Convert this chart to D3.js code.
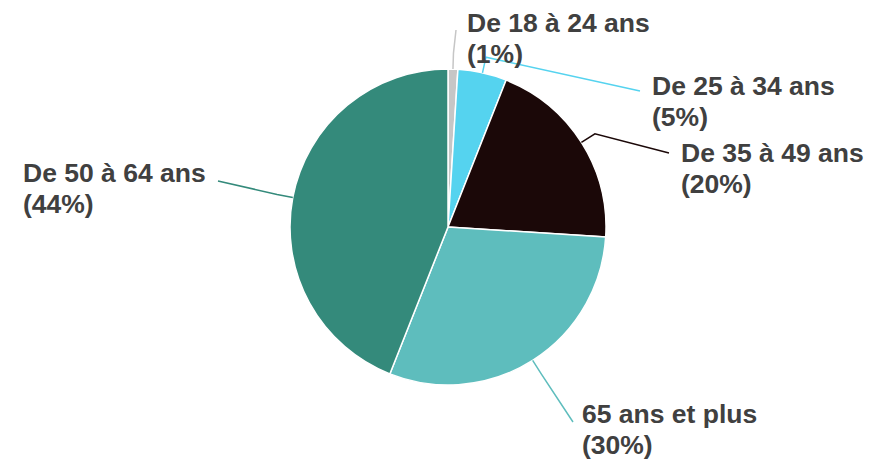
<!DOCTYPE html>
<html>
<head>
<meta charset="utf-8">
<script src="https://cdn.jsdelivr.net/npm/d3@7"></script>
<style>
  html, body { margin: 0; padding: 0; background: #fff; }
  svg { display: block; }
</style>
</head>
<body>
<svg id="chart" width="890" height="464"></svg>
<script>
// data
const categories = ["De 18 à 24 ans", "De 25 à 34 ans", "De 35 à 49 ans", "65 ans et plus", "De 50 à 64 ans"];
const values = [1, 5, 20, 30, 44];
const colors = ["#c6c6c6", "#55d3ef", "#1b0808", "#5ebdbd", "#348a7b"];

// label layout: text x, first baseline, end of leader line
const labelX = [467, 652, 681, 582, 23];
const labelY = [32, 95, 162, 423, 182];
const lineEnd = [[456, 30], [640, 91], [669, 153], [573, 422], [218, 181]];

const width = 890, height = 464;
const cx = 448, cy = 227, radius = 158;
const lineHeight = 31;

const svg = d3.select("#chart");
const g = svg.append("g").attr("transform", `translate(${cx},${cy})`);

const pie = d3.pie().sort(null).value(d => d.value);
const arc = d3.arc().innerRadius(0).outerRadius(radius);

const data = categories.map((c, i) => ({ name: c, value: values[i], color: colors[i], i }));
const arcs = pie(data);

g.selectAll("path.slice")
  .data(arcs)
  .join("path")
  .attr("class", "slice")
  .attr("d", arc)
  .attr("fill", d => d.data.color)
  .attr("stroke", "#fff")
  .attr("stroke-width", 1.5);

// point on the circle at a given angle (0 = top, clockwise)
function polar(a, r) {
  return [cx + r * Math.sin(a), cy - r * Math.cos(a)];
}

// leader lines
svg.append("g")
  .selectAll("polyline")
  .data(arcs)
  .join("polyline")
  .attr("points", d => {
    const mid = (d.startAngle + d.endAngle) / 2;
    const p0 = polar(mid, radius);
    const p1 = polar(mid, radius + 16);
    const p2 = lineEnd[d.data.i];
    return [p0, p1, p2].map(p => p.join(",")).join(" ");
  })
  .attr("fill", "none")
  .attr("stroke", d => d.data.color)
  .attr("stroke-width", 1.5);

// labels
const totals = d3.sum(values);
const labels = svg.append("g")
  .selectAll("text")
  .data(arcs)
  .join("text")
  .attr("x", d => labelX[d.data.i])
  .attr("y", d => labelY[d.data.i])
  .attr("font-family", "'Liberation Sans', Arial, sans-serif")
  .attr("font-weight", "bold")
  .attr("font-size", "26.5px")
  .attr("fill", "#404040");

labels.append("tspan")
  .attr("x", d => labelX[d.data.i])
  .text(d => d.data.name);

labels.append("tspan")
  .attr("x", d => labelX[d.data.i])
  .attr("dy", lineHeight)
  .text(d => `(${Math.round(d.data.value / totals * 100)}%)`);
</script>
</body>
</html>
